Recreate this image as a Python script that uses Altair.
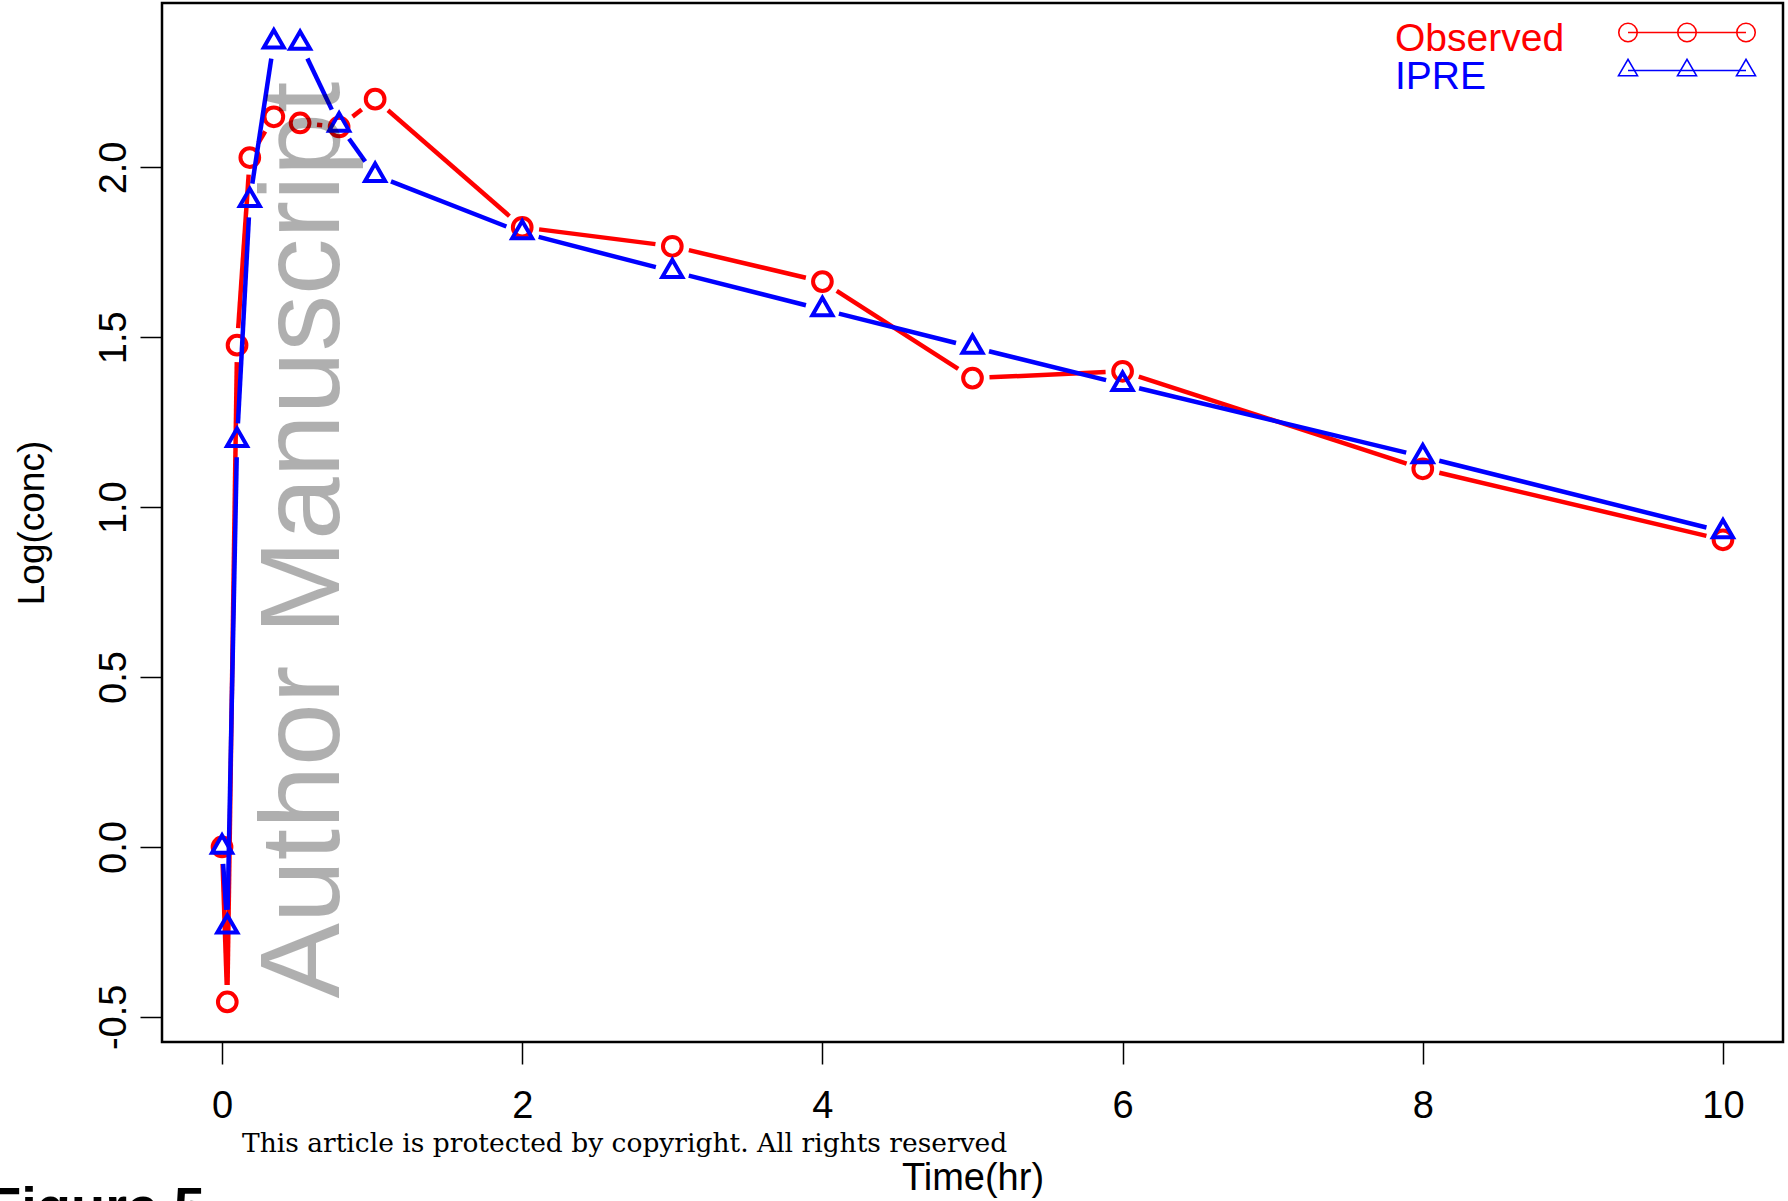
import math
import altair as alt
import pandas as pd

# ---------------- data ----------------
time = [0, 0.035, 0.1, 0.185, 0.345, 0.52, 0.78, 1.02, 2, 3, 4, 5, 6, 8, 10]
observed = [0.0, -0.456, 1.477, 2.029, 2.149, 2.131, 2.119, 2.201, 1.824,
            1.768, 1.664, 1.380, 1.400, 1.113, 0.904]
ipre = [0.0, -0.235, 1.197, 1.903, 2.370, 2.366, 2.125, 1.977, 1.808,
        1.694, 1.582, 1.471, 1.362, 1.149, 0.928]

x_ticks = [0, 2, 4, 6, 8, 10]
y_ticks = [-0.5, 0.0, 0.5, 1.0, 1.5, 2.0]
series_names = ["Observed", "IPRE"]
x_title = "Time(hr)"
y_title = "Log(conc)"
watermark = "Author Manuscript"
copyright_text = "This article is protected by copyright. All rights reserved"
figure_label = "Figure 5"

# ---------------- layout ----------------
W, H = 1621, 1039
PAD = {"left": 162, "top": 3, "right": 5, "bottom": 159}
X_DOM = [-0.4, 10.4]
Y_DOM = [-0.574, 2.484]
SX = W / (X_DOM[1] - X_DOM[0])
SY = H / (Y_DOM[1] - Y_DOM[0])
GAP = 17  # R type="b" gap around points (pixels)

RED = "#ff0000"
BLUE = "#0000ff"
FONT = "Liberation Sans"


def gapped_segments(t, v, gap):
    rows = []
    for i in range(len(t) - 1):
        dt = t[i + 1] - t[i]
        dv = v[i + 1] - v[i]
        L = math.hypot(dt * SX, dv * SY)
        if L <= 2 * gap:
            continue
        f = gap / L
        rows.append({"x": t[i] + f * dt, "y": v[i] + f * dv,
                     "x2": t[i + 1] - f * dt, "y2": v[i + 1] - f * dv})
    return pd.DataFrame(rows)


pts = pd.DataFrame({"time": time, "observed": observed, "ipre": ipre})

xscale = alt.Scale(domain=X_DOM, nice=False, zero=False)
yscale = alt.Scale(domain=Y_DOM, nice=False, zero=False)

x_axis = alt.Axis(values=x_ticks, title=x_title, domain=False, grid=False,
                  tickSize=22, tickWidth=1.5, tickColor="black",
                  labelFont=FONT, labelFontSize=38, labelColor="black",
                  labelBaseline="alphabetic", labelPadding=53, labelFlush=False,
                  labelExpr="format(datum.value, 'd')",
                  titleFont=FONT, titleFontSize=38, titleFontWeight="normal",
                  titleColor="black", titleX=W / 2, titleY=147,
                  titleBaseline="alphabetic", titleAlign="center")
y_axis = alt.Axis(values=y_ticks, title=y_title, domain=False, grid=False,
                  tickSize=22, tickWidth=1.5, tickColor="black",
                  labelFont=FONT, labelFontSize=38, labelColor="black",
                  labelAngle=270, labelAlign="center", labelBaseline="alphabetic",
                  labelPadding=15, labelFlush=False,
                  labelExpr="replace(format(datum.value, '.1f'), '\u2212', '-')",
                  titleFont=FONT, titleFontSize=37, titleFontWeight="normal",
                  titleColor="black", titleAngle=270, titleX=-119, titleY=H / 2,
                  titleBaseline="alphabetic", titleAlign="center")

red_seg = alt.Chart(gapped_segments(time, observed, GAP)).mark_rule(
    color=RED, strokeWidth=4.5).encode(
    x=alt.X("x:Q", scale=xscale, axis=x_axis),
    y=alt.Y("y:Q", scale=yscale, axis=y_axis),
    x2="x2:Q", y2="y2:Q")

red_pts = alt.Chart(pts).mark_point(
    shape="circle", filled=False, color=RED, strokeWidth=4, size=350, opacity=1).encode(
    x=alt.X("time:Q", scale=xscale, axis=x_axis),
    y=alt.Y("observed:Q", scale=yscale, axis=y_axis))

blue_seg = alt.Chart(gapped_segments(time, ipre, GAP)).mark_rule(
    color=BLUE, strokeWidth=4.5).encode(
    x=alt.X("x:Q", scale=xscale, axis=x_axis),
    y=alt.Y("y:Q", scale=yscale, axis=y_axis),
    x2="x2:Q", y2="y2:Q")

blue_pts = alt.Chart(pts).mark_point(
    shape="triangle-up", filled=False, color=BLUE, strokeWidth=4, size=400,
    yOffset=-3, opacity=1).encode(
    x=alt.X("time:Q", scale=xscale, axis=x_axis),
    y=alt.Y("ipre:Q", scale=yscale, axis=y_axis))

# ---------------- legend (top right, R style) ----------------
leg_sym_x = [1466, 1525, 1584]
leg_y = [29.5, 67.5]
leg_text_y = [48, 86]
leg_text = pd.DataFrame({"name": series_names, "py": leg_text_y, "px": [1233, 1233]})

leg_txt = alt.Chart(leg_text).mark_text(
    font=FONT, fontSize=39, align="left", baseline="alphabetic").encode(
    x=alt.X("px:Q", scale=None, axis=None), y=alt.Y("py:Q", scale=None, axis=None),
    text="name:N",
    color=alt.Color("name:N", scale=alt.Scale(domain=series_names, range=[RED, BLUE]),
                    legend=None))

leg_lines = []
for yy, col in zip(leg_y, [RED, BLUE]):
    leg_lines.append(alt.Chart(pd.DataFrame({"a": [0]})).mark_rule(
        color=col, strokeWidth=1.5).encode(
        x=alt.value(leg_sym_x[0]), x2=alt.value(leg_sym_x[-1]), y=alt.value(yy)))

leg_circ = alt.Chart(pd.DataFrame({"px": leg_sym_x, "py": [leg_y[0]] * 3})).mark_point(
    shape="circle", filled=False, color=RED, strokeWidth=1.6, size=342, opacity=1).encode(
    x=alt.X("px:Q", scale=None, axis=None), y=alt.Y("py:Q", scale=None, axis=None))
leg_tri = alt.Chart(pd.DataFrame({"px": leg_sym_x, "py": [leg_y[1]] * 3})).mark_point(
    shape="triangle-up", filled=False, color=BLUE, strokeWidth=1.6, size=360,
    yOffset=-3, opacity=1).encode(
    x=alt.X("px:Q", scale=None, axis=None), y=alt.Y("py:Q", scale=None, axis=None))

# ---------------- overlays ----------------
wm = alt.Chart(pd.DataFrame({"t": [watermark]})).mark_text(
    font=FONT, fontSize=113, angle=270, align="center", baseline="alphabetic",
    color="black", opacity=0.31).encode(
    x=alt.value(177), y=alt.value(537), text="t:N")

cr = alt.Chart(pd.DataFrame({"t": [copyright_text]})).mark_text(
    font="DejaVu Serif", fontSize=26.5, align="left", baseline="alphabetic",
    color="black").encode(x=alt.value(80), y=alt.value(1149), text="t:N")

fig = alt.Chart(pd.DataFrame({"t": [figure_label]})).mark_text(
    font=FONT, fontSize=56, fontWeight="bold", align="left", baseline="alphabetic",
    color="black").encode(x=alt.value(-175), y=alt.value(1223), text="t:N")

chart = alt.layer(
    red_seg, red_pts, blue_seg, blue_pts,
    *leg_lines, leg_circ, leg_tri, leg_txt,
    wm, cr, fig
).properties(
    width=W, height=H,
    autosize=alt.AutoSizeParams(type="none"),
    padding=PAD,
    background="white",
).configure_view(
    stroke="black", strokeWidth=2.5
)

chart.save("out.html", embed_options={"renderer": "svg", "actions": False})
